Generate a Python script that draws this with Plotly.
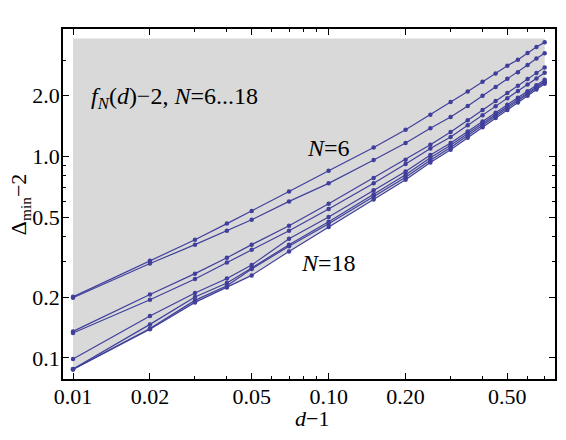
import plotly.graph_objects as go

# d-1 values (x axis)
d_minus_1 = [0.01, 0.02, 0.03, 0.04, 0.05, 0.07, 0.1, 0.15, 0.2, 0.25,
             0.3, 0.35, 0.4, 0.45, 0.5, 0.55, 0.6, 0.65, 0.7]

# Delta_min - 2 for each curve, top (N=6) to bottom (N=18)
s1 = [0.201, 0.304, 0.386, 0.464, 0.536, 0.670, 0.849, 1.108, 1.356, 1.607,
      1.861, 2.101, 2.347, 2.580, 2.818, 3.018, 3.259, 3.489, 3.678]
s2 = [0.199, 0.294, 0.365, 0.428, 0.485, 0.598, 0.735, 0.960, 1.166, 1.378,
      1.568, 1.780, 2.000, 2.212, 2.429, 2.616, 2.841, 3.059, 3.244]
s3 = [0.1355, 0.2067, 0.262, 0.314, 0.365, 0.453, 0.582, 0.7815, 0.963, 1.143,
      1.321, 1.512, 1.697, 1.881, 2.063, 2.240, 2.417, 2.590, 2.764]
s4 = [0.133, 0.1946, 0.2465, 0.298, 0.3445, 0.428, 0.5483, 0.7364, 0.917, 1.094,
      1.248, 1.427, 1.601, 1.774, 1.944, 2.110, 2.276, 2.437, 2.602]
s5 = [0.0989, 0.1615, 0.2101, 0.2481, 0.2892, 0.3906, 0.5005, 0.6784, 0.8425, 1.015,
      1.166, 1.330, 1.490, 1.647, 1.803, 1.955, 2.106, 2.253, 2.401]
s6 = [0.0882, 0.1468, 0.2007, 0.2355, 0.2795, 0.3648, 0.4745, 0.6486, 0.8115, 0.984,
      1.137, 1.299, 1.456, 1.612, 1.766, 1.917, 2.068, 2.215, 2.360]
s7 = [0.0880, 0.1402, 0.1931, 0.2284, 0.2763, 0.3586, 0.4636, 0.6326, 0.7885, 0.9576,
      1.107, 1.268, 1.427, 1.583, 1.736, 1.887, 2.037, 2.184, 2.334]
s8 = [0.0878, 0.1390, 0.1887, 0.2240, 0.2569, 0.3379, 0.4465, 0.6119, 0.7663, 0.9327,
      1.080, 1.238, 1.394, 1.549, 1.701, 1.851, 2.000, 2.147, 2.294]

series = [s1, s2, s3, s4, s5, s6, s7, s8]

FILL_TOP = 3.84  # upper edge of the shaded region

x_ticks = [0.01, 0.02, 0.05, 0.1, 0.2, 0.5]
x_ticktext = ["0.01", "0.02", "0.05", "0.10", "0.20", "0.50"]
x_minor = [0.03, 0.04, 0.06, 0.07, 0.08, 0.09, 0.3, 0.4, 0.6, 0.7]
y_ticks = [0.1, 0.2, 0.5, 1.0, 2.0]
y_ticktext = ["0.1", "0.2", "0.5", "1.0", "2.0"]
y_minor = [0.3, 0.4, 0.6, 0.7, 0.8, 0.9, 3.0]

BLUE = "#40409c"
FONT = "Liberation Serif, Times New Roman, serif"
txt = dict(family=FONT, size=22, color="black")

fig = go.Figure()

# shaded region above the lowest curve
lower = [min(v) for v in zip(*series)]
fig.add_trace(go.Scatter(
    x=d_minus_1 + d_minus_1[::-1],
    y=lower + [FILL_TOP] * len(d_minus_1),
    fill="toself", fillcolor="#d9d9d9",
    mode="lines", line=dict(width=0),
    hoverinfo="skip", showlegend=False,
))

for s in series:
    fig.add_trace(go.Scatter(
        x=d_minus_1, y=s, mode="lines+markers",
        line=dict(color=BLUE, width=1.2),
        marker=dict(color=BLUE, size=4.5),
        showlegend=False,
    ))

axis_common = dict(
    type="log", showgrid=False, zeroline=False, automargin=False,
    showline=True, linecolor="black", linewidth=1.5, mirror="ticks",
    ticks="inside", ticklen=6, tickwidth=1, tickcolor="black",
    ticklabelstandoff=-3,
    tickfont=dict(family=FONT, size=22, color="black"),
)

# page body has an 8px margin, so the figure is a bit smaller than the window
fig.update_layout(
    width=550, height=424,
    margin=dict(l=55, r=3, t=21, b=53),
    plot_bgcolor="white", paper_bgcolor="white",
    font=dict(family=FONT),
    showlegend=False,
    xaxis=dict(
        axis_common, range=[-2.0391, -0.1145],
        tickvals=x_ticks, ticktext=x_ticktext,
        minor=dict(tickvals=x_minor, ticks="inside", ticklen=3, tickcolor="black", showgrid=False),
    ),
    yaxis=dict(
        axis_common, range=[-1.1042, 0.6319],
        tickvals=y_ticks, ticktext=y_ticktext,
        minor=dict(tickvals=y_minor, ticks="inside", ticklen=3, tickcolor="black", showgrid=False),
    ),
    annotations=[
        dict(text="<i>d</i>\u22121", xref="paper", yref="paper", x=0.506, y=-0.113,
             xanchor="center", yanchor="middle", showarrow=False, font=txt),
        dict(text="\u0394<sub>min</sub>\u22122", xref="paper", yref="paper", x=-0.087, y=0.5,
             xanchor="center", yanchor="middle", textangle=-90, showarrow=False, font=txt),
        dict(text="<i>f</i><sub><i>N</i></sub>(<i>d</i>)\u22122, <i>N</i>=6...18",
             xref="paper", yref="paper", x=0.053, y=0.804, xanchor="left", yanchor="middle",
             showarrow=False, font=dict(family=FONT, size=24, color="black")),
        dict(text="<i>N</i>=6", xref="paper", yref="paper", x=0.539, y=0.659,
             xanchor="center", yanchor="middle", showarrow=False,
             font=dict(family=FONT, size=24, color="black")),
        dict(text="<i>N</i>=18", xref="paper", yref="paper", x=0.539, y=0.332,
             xanchor="center", yanchor="middle", showarrow=False,
             font=dict(family=FONT, size=24, color="black")),
    ],
)

fig.write_html("out.html")
